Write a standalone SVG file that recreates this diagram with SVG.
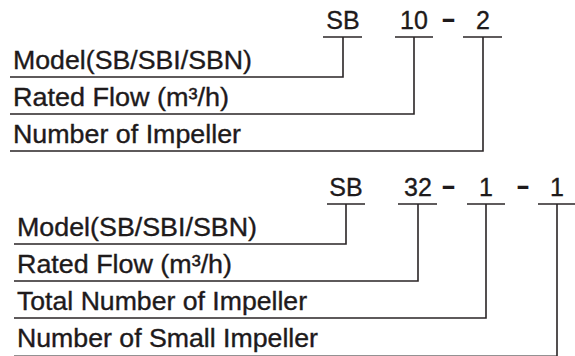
<svg xmlns="http://www.w3.org/2000/svg" width="575" height="356" viewBox="0 0 575 356">
<style>
.t{font-family:"Liberation Sans",Arial,sans-serif;font-size:25px;fill:#1e1a1b;stroke:#1e1a1b;stroke-width:0.35}
.h{font-family:"Liberation Sans",Arial,sans-serif;font-size:25px;fill:#1e1a1b;stroke:#1e1a1b;stroke-width:0.35;text-anchor:middle}
.d{font-family:"Liberation Sans",Arial,sans-serif;font-size:28px;font-weight:bold;fill:#1e1a1b}
.ln{stroke:#2a2526;stroke-width:1.6;fill:none}
</style>
<rect width="575" height="356" fill="#fff"/>
<g id="code1">
<g id="c1-sb"><text class="h" x="343" y="29">SB</text><line class="ln" x1="323" y1="37" x2="362" y2="37"/></g>
<g id="c1-10"><text class="h" x="414" y="29">10</text><line class="ln" x1="395" y1="37" x2="433" y2="37"/></g>
<g id="c1-dash"><text class="d" x="441" y="28" textLength="15" lengthAdjust="spacingAndGlyphs">-</text></g>
<g id="c1-2"><text class="h" x="483" y="29">2</text><line class="ln" x1="463" y1="37" x2="502" y2="37"/></g>
</g>
<g id="labels1">
<g id="l1-model"><text class="t" x="13" y="69" textLength="239" lengthAdjust="spacingAndGlyphs">Model(SB/SBI/SBN)</text></g>
<g id="l1-flow"><text class="t" x="13" y="106" textLength="216" lengthAdjust="spacingAndGlyphs">Rated Flow (m³/h)</text></g>
<g id="l1-imp"><text class="t" x="13" y="143" textLength="228" lengthAdjust="spacingAndGlyphs">Number of Impeller</text></g>
</g>
<g id="code2">
<g id="c2-sb"><text class="h" x="346" y="196">SB</text><line class="ln" x1="327" y1="204" x2="365" y2="204"/></g>
<g id="c2-32"><text class="h" x="418" y="196">32</text><line class="ln" x1="398" y1="204" x2="437" y2="204"/></g>
<g id="c2-dash1"><text class="d" x="441" y="195" textLength="15" lengthAdjust="spacingAndGlyphs">-</text></g>
<g id="c2-1a"><text class="h" x="486" y="196">1</text><line class="ln" x1="467" y1="204" x2="505" y2="204"/></g>
<g id="c2-dash2"><text class="d" x="516" y="195" textLength="14" lengthAdjust="spacingAndGlyphs">-</text></g>
<g id="c2-1b"><text class="h" x="557" y="196">1</text><line class="ln" x1="538" y1="204" x2="577" y2="204"/></g>
</g>
<g id="labels2">
<g id="l2-model"><text class="t" x="17" y="236" textLength="240" lengthAdjust="spacingAndGlyphs">Model(SB/SBI/SBN)</text></g>
<g id="l2-flow"><text class="t" x="17" y="273" textLength="215" lengthAdjust="spacingAndGlyphs">Rated Flow (m³/h)</text></g>
<g id="l2-total"><text class="t" x="17" y="310" textLength="290" lengthAdjust="spacingAndGlyphs">Total Number of Impeller</text></g>
<g id="l2-small"><text class="t" x="17" y="347" textLength="301" lengthAdjust="spacingAndGlyphs">Number of Small Impeller</text></g>
</g>
<g id="connectors">
<path class="ln" d="M10 77H343V37"/>
<path class="ln" d="M10 114H414V37"/>
<path class="ln" d="M10 151H483V37"/>
<path class="ln" d="M14 244H346V204"/>
<path class="ln" d="M14 281H418V204"/>
<path class="ln" d="M14 318H486V204"/>
<path class="ln" d="M557 204V356.3H14"/>
</g>
</svg>
